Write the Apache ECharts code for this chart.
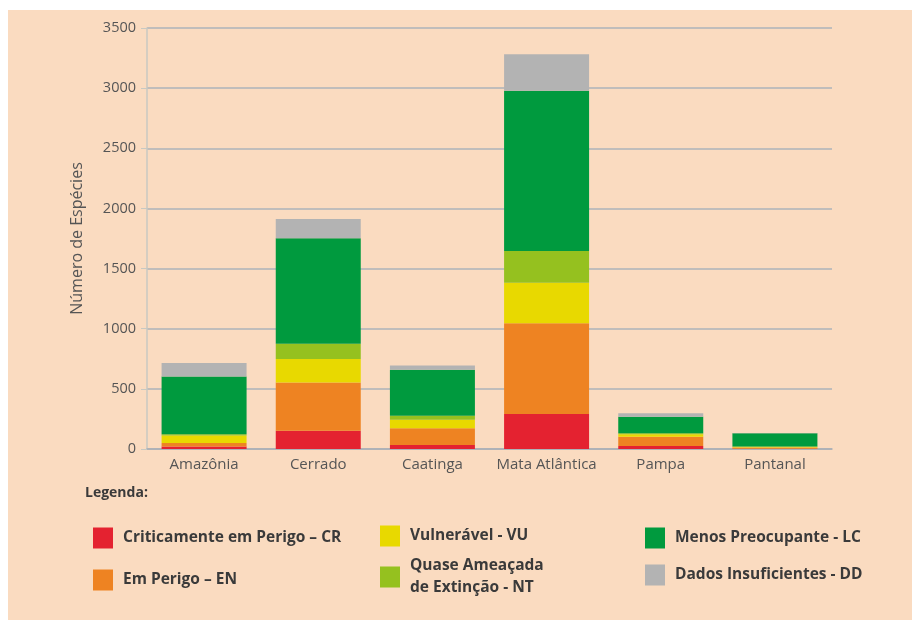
<!DOCTYPE html>
<html>
<head>
<meta charset="utf-8">
<script src="https://cdn.jsdelivr.net/npm/echarts@6/dist/echarts.min.js"></script>
<style>
  html, body { margin: 0; padding: 0; background: #fff; }
  #chart { width: 920px; height: 626px; }
</style>
</head>
<body>
<div id="chart"></div>
<script>
// biomas
const categories = ['Amazônia', 'Cerrado', 'Caatinga', 'Mata Atlântica', 'Pampa', 'Pantanal'];

// número de espécies por categoria de ameaça
const crValues = [20, 152, 33, 291, 25, 2];
const enValues = [30, 400, 140, 754, 77, 10];
const vuValues = [62, 197, 70, 338, 20, 5];
const ntValues = [10, 125, 33, 263, 8, 3];
const lcValues = [480, 879, 383, 1333, 139, 110];
const ddValues = [112, 160, 36, 302, 28, 2];

const yTicks = { min: 0, max: 3500, interval: 500 };

const seriesNames = ['CR', 'EN', 'VU', 'NT', 'LC', 'DD'];
const legendLabels = {
    CR: 'Criticamente em Perigo – CR',
    EN: 'Em Perigo – EN',
    VU: 'Vulnerável - VU',
    NT: 'Quase Ameaçada\nde Extinção - NT',
    LC: 'Menos Preocupante - LC',
    DD: 'Dados Insuficientes - DD'
};

(function () {
    let chartDom = document.getElementById('chart');
    let myChart = echarts.init(chartDom);

    const font = '"Open Sans", sans-serif';
    const colors = ['#E42230', '#EE8322', '#E8D900', '#95C11F', '#009A3E', '#B3B3B3'];
    const values = [crValues, enValues, vuValues, ntValues, lcValues, ddValues];

    function legendColumn(left, top, names, gap) {
        return {
            orient: 'vertical',
            left: left,
            top: top,
            data: names,
            itemWidth: 20,
            itemHeight: 21,
            itemGap: gap,
            icon: 'rect',
            formatter: function (name) { return legendLabels[name]; },
            textStyle: {
                fontFamily: font,
                fontSize: 15.5,
                fontWeight: 'bold',
                color: '#3a3a3a',
                lineHeight: 22,
                padding: [0, 0, 0, 5]
            }
        };
    }

    let option = {
        backgroundColor: '#fff',
        animation: false,
        color: colors,
        graphic: [{
            type: 'rect',
            z: -10,
            silent: true,
            shape: { x: 8, y: 10, width: 904, height: 610 },
            style: { fill: '#FADBC0' }
        }],
        title: {
            text: 'Legenda:',
            left: 80,
            top: 481,
            textStyle: { fontFamily: font, fontSize: 14, fontWeight: 'bold', color: '#3a3a3a' }
        },
        legend: [
            legendColumn(88, 522, ['CR', 'EN'], 20),
            legendColumn(375, 520, ['VU', 'NT'], 8),
            legendColumn(640, 522, ['LC', 'DD'], 15)
        ],
        grid: {
            left: 147,
            right: 88,
            top: 28,
            bottom: 177
        },
        xAxis: {
            type: 'category',
            data: categories,
            axisLine: { lineStyle: { color: '#A9AFB6', width: 1.5 } },
            axisTick: { show: false },
            axisLabel: { interval: 0, margin: 8, fontFamily: font, fontSize: 15, color: '#555' }
        },
        yAxis: {
            type: 'value',
            min: yTicks.min,
            max: yTicks.max,
            interval: yTicks.interval,
            name: 'Número de Espécies',
            nameLocation: 'middle',
            nameGap: 62,
            nameTextStyle: { fontFamily: font, fontSize: 16, color: '#555' },
            axisLine: { show: true, lineStyle: { color: '#C9C9C2', width: 1.5 } },
            axisTick: { show: true, length: 6, lineStyle: { color: '#C9C9C2' } },
            axisLabel: {
                margin: 11,
                fontFamily: font,
                fontSize: 14.5,
                color: '#555',
                formatter: function (v) { return String(v); }
            },
            splitLine: { lineStyle: { color: '#ADB3BA', width: 1.5 } }
        },
        series: seriesNames.map(function (name, index) {
            return {
                name: name,
                type: 'bar',
                stack: 'total',
                barWidth: 85,
                data: values[index]
            };
        })
    };

    myChart.setOption(option);
})();
</script>
</body>
</html>
